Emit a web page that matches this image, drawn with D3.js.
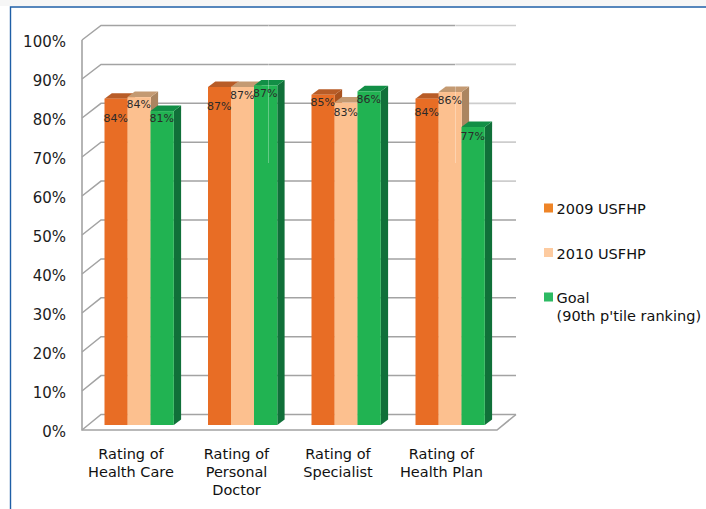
<!DOCTYPE html>
<html><head><meta charset="utf-8">
<script src="https://cdn.jsdelivr.net/npm/d3@7"></script>
<style>html,body{margin:0;padding:0;background:#fff;overflow:hidden}svg{display:block}text{font-family:"DejaVu Sans",sans-serif}</style>
</head><body><svg id="c" width="706" height="509"></svg>
<script>
const categories = [["Rating of","Health Care"],["Rating of","Personal","Doctor"],["Rating of","Specialist"],["Rating of","Health Plan"]];
const seriesNames = [["2009 USFHP"],["2010 USFHP"],["Goal","(90th p'tile ranking)"]];
const values2009 = [84, 87, 85, 84];
const values2010 = [84.4, 87, 83, 85.7];
const valuesGoal = [80.8, 87.4, 85.9, 76.7];
const tickValues = [0,10,20,30,40,50,60,70,80,90,100];
const series = [values2009, values2010, valuesGoal];
const frontColors = ["#e86d25","#fcc08f","#21b352"];
const topColors = ["#b85c27","#c49a72","#128f46"];
const sideColors = ["#a9521f","#ab8560","#107039"];
const legendColors = ["#ee8427","#fdcba0","#2dba63"];
const labelOffsets = [[19.5,19,6.7,13.5],[6.5,7.5,9,7.7],[7,7.7,7.2,8.7]];

const svg = d3.select("#c");
const grey = "#a3a3a3";
svg.append("rect").attr("x",0).attr("y",0).attr("width",706).attr("height",6).attr("fill","#f6f6f6");
svg.append("path").attr("d","M10.5,509V7H706").attr("fill","none").attr("stroke","#1f5fa6").attr("stroke-width",1.4);

const yFront = d3.scaleLinear().domain([0,100]).range([430,40]);
const yBack = d3.scaleLinear().domain([0,100]).range([414.5,25.5]);
const yBar = d3.scaleLinear().domain([0,100]).range([425,36.5]);
const barW = 23;
const groupLeft = [104.5,208,311.5,415.5];
const dx = 7.3, dy = 5.5;

const g = svg.append("g").attr("fill","none");
tickValues.forEach(t=>{
  g.append("path").attr("d",`M82,${yFront(t)}L101,${yBack(t)}H${t>=60?455:516}`).attr("stroke",grey).attr("stroke-width",1.5);
  if(t>=60) g.append("path").attr("d",`M455,${yBack(t)}H516`).attr("stroke","#cdcdcd").attr("stroke-width",1.7);
});
g.append("path").attr("d",`M82,${yFront(100)}V${yFront(0)}H497L516,${yBack(0)}`).attr("stroke",grey).attr("stroke-width",1.6);

series.forEach((vals,s)=>{
  const bars = svg.append("g").selectAll("g").data(vals).join("g");
  bars.each(function(v,i){
    const x = groupLeft[i] + s*barW, w = barW+0.3, top = yBar(v), bot = yBar(0);
    const b = d3.select(this);
    b.append("path").attr("d",`M${x+w},${top}L${x+w+dx},${top-dy}V${bot-dy}L${x+w},${bot}Z`).attr("fill",sideColors[s]);
    b.append("path").attr("d",`M${x},${top}L${x+dx},${top-dy}H${x+w+dx}L${x+w},${top}Z`).attr("fill",topColors[s]);
    b.append("rect").attr("x",x).attr("y",top).attr("width",w).attr("height",bot-top).attr("fill",frontColors[s]);
  });
});
svg.append("path").attr("d","M268.5,25V163M455.5,25V163").attr("stroke","#ffffff").attr("stroke-opacity",0.3).attr("fill","none");

series.forEach((vals,s)=>{
  svg.append("g").selectAll("text").data(vals).join("text")
    .attr("x",(v,i)=>groupLeft[i]+s*barW+11.3)
    .attr("y",(v,i)=>yBar(v)+labelOffsets[s][i]+4.3)
    .attr("text-anchor","middle").attr("font-size",11).attr("fill","#2a2a2a")
    .text(v=>Math.round(v)+"%");
});

const yAxis = d3.axisLeft(yFront).tickValues(tickValues).tickSize(0).tickPadding(0).tickFormat(d=>d+"%");
const ax = svg.append("g").attr("transform","translate(66,2)").call(yAxis);
ax.select(".domain").remove();
ax.selectAll("text").attr("font-size",15).attr("font-family","'Noto Sans',sans-serif").attr("fill","#1c1c1c");

const catCenter = [131,236.5,338,441.5];
categories.forEach((lines,i)=>{
  svg.append("text").attr("text-anchor","middle").attr("font-size",14.5).attr("fill","#111")
    .selectAll("tspan").data(lines).join("tspan").attr("x",catCenter[i]).attr("y",(d,j)=>459+j*18).text(d=>d);
});

const legTop = [203.5,248,292.5];
seriesNames.forEach((lines,i)=>{
  svg.append("rect").attr("x",544).attr("y",legTop[i]).attr("width",9).attr("height",9).attr("fill",legendColors[i]);
  svg.append("text").attr("font-size",14.5).attr("fill","#111")
    .selectAll("tspan").data(lines).join("tspan").attr("x",556.5).attr("y",(d,j)=>legTop[i]+10.5+j*18).text(d=>d);
});
</script></body></html>
